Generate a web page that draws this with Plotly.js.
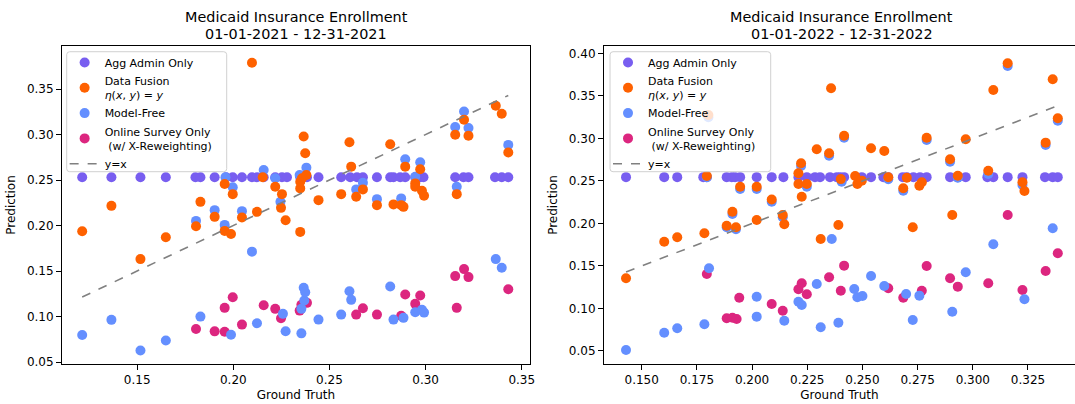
<!DOCTYPE html>
<html>
<head>
<meta charset="utf-8">
<script src="https://cdn.plot.ly/plotly-3.0.1.min.js"></script>
<style>html,body{margin:0;padding:0;background:#fff;}#chart{width:1075px;height:404px;}</style>
</head>
<body>
<div id="chart"></div>
<script>
// ---------- 2021 (left panel) ----------
const agg2021X = [0.1214,0.1366,0.1517,0.1649,0.1803,0.1829,0.1903,0.1962,0.1997,0.2045,0.2097,0.2123,0.2158,0.2218,0.2253,0.2279,0.2348,0.2360,0.2383,0.2443,0.2561,0.2608,0.2643,0.2674,0.2747,0.2816,0.2833,0.2868,0.2894,0.2946,0.2972,0.2989,0.3154,0.3197,0.3223,0.3361,0.3396,0.3430];
const agg2021Y = [0.253,0.253,0.253,0.253,0.253,0.253,0.253,0.253,0.253,0.253,0.253,0.253,0.253,0.253,0.253,0.253,0.253,0.253,0.253,0.253,0.253,0.253,0.253,0.253,0.253,0.253,0.253,0.253,0.253,0.253,0.253,0.253,0.253,0.253,0.253,0.253,0.253,0.253];

const fusion2021X = [0.1214,0.1366,0.1517,0.1649,0.1806,0.1829,0.1903,0.1955,0.1955,0.1988,0.1997,0.2045,0.2097,0.2123,0.2153,0.2218,0.2248,0.2253,0.2272,0.2348,0.2348,0.2348,0.2357,0.2366,0.2374,0.2380,0.2443,0.2561,0.2604,0.2613,0.2639,0.2674,0.2747,0.2816,0.2833,0.2873,0.2885,0.2894,0.2946,0.2946,0.2972,0.2981,0.2992,0.3154,0.3162,0.3200,0.3223,0.3365,0.3396,0.3430];
const fusion2021Y = [0.1937,0.2216,0.1631,0.1871,0.1992,0.2260,0.2095,0.2456,0.1941,0.1907,0.2345,0.2088,0.3788,0.2150,0.2530,0.2426,0.2194,0.2345,0.2058,0.1930,0.2408,0.2481,0.2519,0.2978,0.2794,0.2555,0.2279,0.2345,0.2916,0.2647,0.2316,0.2397,0.2224,0.2894,0.2232,0.2224,0.2205,0.2647,0.2463,0.2426,0.2618,0.2382,0.2327,0.2997,0.2345,0.3162,0.2986,0.3317,0.3228,0.2802];

const free2021X = [0.1214,0.1366,0.1517,0.1649,0.1806,0.1829,0.1903,0.1955,0.1959,0.1988,0.1997,0.2045,0.2097,0.2123,0.2158,0.2218,0.2245,0.2258,0.2272,0.2345,0.2354,0.2354,0.2366,0.2369,0.2374,0.2380,0.2443,0.2561,0.2604,0.2613,0.2639,0.2674,0.2747,0.2816,0.2833,0.2873,0.2885,0.2894,0.2946,0.2946,0.2972,0.2981,0.2992,0.3154,0.3162,0.3200,0.3223,0.3365,0.3396,0.3430];
const free2021Y = [0.0797,0.0963,0.0627,0.0737,0.2051,0.0999,0.2169,0.2007,0.2530,0.0800,0.2420,0.2158,0.1713,0.0925,0.2610,0.2519,0.2260,0.1029,0.0838,0.2555,0.1084,0.0815,0.1316,0.1176,0.1267,0.2636,0.0966,0.1021,0.1278,0.1183,0.2397,0.2470,0.2290,0.1330,0.0966,0.2298,0.0985,0.2728,0.1046,0.2536,0.2695,0.1073,0.1043,0.3082,0.2426,0.3254,0.3071,0.1631,0.1536,0.2886];

const survey2021X = [0.1806,0.1903,0.1955,0.1955,0.1997,0.2045,0.2158,0.2218,0.2248,0.2345,0.2354,0.2383,0.2639,0.2674,0.2747,0.2873,0.2894,0.2946,0.2972,0.3154,0.3162,0.3200,0.3223,0.3430];
const survey2021Y = [0.0863,0.0837,0.0833,0.1095,0.1212,0.0911,0.1124,0.1084,0.0980,0.1065,0.1128,0.1150,0.1021,0.1091,0.1021,0.1007,0.1242,0.1139,0.1231,0.1444,0.1095,0.1521,0.1433,0.1300];

const identity2021 = [0.1214, 0.3430];

// ---------- 2022 (right panel) ----------
const agg2022X = [0.1429,0.1602,0.1661,0.1779,0.1795,0.1885,0.1908,0.1923,0.1946,0.2021,0.2089,0.2142,0.2210,0.2248,0.2285,0.2308,0.2353,0.2384,0.2399,0.2417,0.2497,0.2539,0.2595,0.2617,0.2683,0.2701,0.2731,0.2761,0.2791,0.2897,0.2932,0.2968,0.3066,0.3093,0.3158,0.3225,0.3327,0.3362,0.3385];
const agg2022Y = [0.2545,0.2545,0.2545,0.2545,0.2545,0.2545,0.2545,0.2545,0.2545,0.2545,0.2545,0.2545,0.2545,0.2545,0.2545,0.2545,0.2545,0.2545,0.2545,0.2545,0.2545,0.2545,0.2545,0.2545,0.2545,0.2545,0.2545,0.2545,0.2545,0.2545,0.2545,0.2545,0.2545,0.2545,0.2545,0.2545,0.2545,0.2545,0.2545];

const fusion2022X = [0.1429,0.1602,0.1661,0.1784,0.1795,0.1802,0.1885,0.1911,0.1927,0.1946,0.2021,0.2021,0.2089,0.2139,0.2146,0.2210,0.2210,0.2222,0.2225,0.2248,0.2293,0.2311,0.2349,0.2358,0.2391,0.2402,0.2417,0.2467,0.2477,0.2497,0.2539,0.2599,0.2617,0.2685,0.2701,0.2728,0.2758,0.2769,0.2791,0.2897,0.2907,0.2932,0.2968,0.3070,0.3093,0.3158,0.3225,0.3234,0.3330,0.3362,0.3385];
const fusion2022Y = [0.1355,0.1786,0.1838,0.1885,0.2559,0.3276,0.1974,0.2139,0.1955,0.2433,0.2433,0.2041,0.2282,0.2100,0.1991,0.2591,0.2465,0.2708,0.2315,0.2465,0.2873,0.1818,0.2826,0.3590,0.1982,0.2522,0.3033,0.2559,0.2465,0.2504,0.2885,0.2853,0.2544,0.2414,0.2539,0.1955,0.2445,0.2485,0.3009,0.2755,0.2100,0.2562,0.2991,0.2621,0.3571,0.3885,0.2485,0.2382,0.2951,0.3696,0.3238];

const free2022X = [0.1429,0.1602,0.1661,0.1784,0.1795,0.1802,0.1805,0.1885,0.1911,0.1927,0.1946,0.2021,0.2021,0.2021,0.2089,0.2139,0.2146,0.2210,0.2222,0.2225,0.2248,0.2293,0.2311,0.2349,0.2361,0.2391,0.2406,0.2417,0.2463,0.2477,0.2500,0.2539,0.2599,0.2617,0.2685,0.2698,0.2728,0.2758,0.2791,0.2897,0.2907,0.2932,0.2968,0.3070,0.3093,0.3158,0.3225,0.3234,0.3330,0.3362,0.3385];
const free2022Y = [0.0512,0.0715,0.0767,0.0814,0.2544,0.3250,0.1473,0.1955,0.2112,0.1932,0.2406,0.2406,0.1139,0.0904,0.2256,0.2073,0.0856,0.1080,0.2676,0.1041,0.2433,0.1288,0.0779,0.2798,0.1818,0.0833,0.2492,0.3009,0.1229,0.1132,0.1147,0.1382,0.1265,0.2520,0.2386,0.1171,0.0865,0.1151,0.2982,0.2727,0.0962,0.2539,0.1426,0.2582,0.1755,0.3853,0.2453,0.1108,0.2924,0.1944,0.3209];

const survey2022X = [0.1795,0.1885,0.1911,0.1930,0.1942,0.2089,0.2139,0.2210,0.2225,0.2248,0.2349,0.2402,0.2417,0.2617,0.2685,0.2769,0.2791,0.2897,0.2932,0.3070,0.3158,0.3225,0.3330,0.3385];
const survey2022Y = [0.1406,0.0885,0.0892,0.0876,0.1127,0.1053,0.0974,0.1226,0.1296,0.1167,0.1367,0.1209,0.1504,0.1238,0.1127,0.1209,0.1500,0.1355,0.1257,0.1296,0.2100,0.1218,0.1441,0.1649];

const identity2022 = [0.1429, 0.3385];

// ---------- labels ----------
const seriesNames = ["Agg Admin Only", "Data Fusion<br><i>η</i>(<i>x</i>, <i>y</i>) = <i>y</i>", "Model-Free", "Online Survey Only<br> (w/ X-Reweighting)", "y=x"];
const titleLine1 = "Medicaid Insurance Enrollment";
const titles2 = ["01-01-2021 - 12-31-2021", "01-01-2022 - 12-31-2022"];
const xTitle = "Ground Truth";
const yTitle = "Prediction";

const colors = {agg: "#785EF0", fusion: "#FE6100", free: "#648FFF", survey: "#DC267F"};
const FONT = "DejaVu Sans, Liberation Sans, sans-serif";

function pts(x, y, name, color, rank, xa, ya, lg) {
  return {type: "scatter", mode: "markers", x: x, y: y, name: name,
    marker: {color: color, size: 10, line: {width: 0}},
    xaxis: xa, yaxis: ya, legend: lg, legendrank: rank, showlegend: true, hoverinfo: "x+y"};
}
function idLine(v, xa, ya, lg) {
  return {type: "scatter", mode: "lines", x: v, y: v, name: seriesNames[4],
    line: {color: "#808080", width: 1.6, dash: "dash"},
    xaxis: xa, yaxis: ya, legend: lg, legendrank: 5};
}

const traces = [
  pts(agg2021X, agg2021Y, seriesNames[0], colors.agg, 1, "x", "y", "legend"),
  pts(survey2021X, survey2021Y, seriesNames[3], colors.survey, 4, "x", "y", "legend"),
  pts(free2021X, free2021Y, seriesNames[2], colors.free, 3, "x", "y", "legend"),
  pts(fusion2021X, fusion2021Y, seriesNames[1], colors.fusion, 2, "x", "y", "legend"),
  idLine(identity2021, "x", "y", "legend"),
  pts(agg2022X, agg2022Y, seriesNames[0], colors.agg, 1, "x2", "y2", "legend2"),
  pts(survey2022X, survey2022Y, seriesNames[3], colors.survey, 4, "x2", "y2", "legend2"),
  pts(free2022X, free2022Y, seriesNames[2], colors.free, 3, "x2", "y2", "legend2"),
  pts(fusion2022X, fusion2022Y, seriesNames[1], colors.fusion, 2, "x2", "y2", "legend2"),
  idLine(identity2022, "x2", "y2", "legend2")
];

const axisBase = {showgrid: false, zeroline: false, showline: true, linecolor: "#000", linewidth: 1,
  ticks: "outside", ticklen: 5, tickwidth: 1, tickcolor: "#000",
  tickfont: {family: FONT, size: 12, color: "#000"}, automargin: false};

const legendBase = {bgcolor: "rgba(0,0,0,0)", borderwidth: 0,
  font: {family: FONT, size: 11, color: "#000"}, traceorder: "normal",
  xanchor: "left", yanchor: "top", tracegroupgap: 0, itemwidth: 30};

// rounded legend frame (paper coordinates)
function frame(x0, x1, y0, y1) {
  const rx = 3 / 1013, ry = 3 / 318;
  const p = "M " + (x0 + rx) + "," + y1 + " L " + (x1 - rx) + "," + y1 +
    " Q " + x1 + "," + y1 + " " + x1 + "," + (y1 - ry) +
    " L " + x1 + "," + (y0 + ry) + " Q " + x1 + "," + y0 + " " + (x1 - rx) + "," + y0 +
    " L " + (x0 + rx) + "," + y0 + " Q " + x0 + "," + y0 + " " + x0 + "," + (y0 + ry) +
    " L " + x0 + "," + (y1 - ry) + " Q " + x0 + "," + y1 + " " + (x0 + rx) + "," + y1 + " Z";
  return {type: "path", path: p, xref: "paper", yref: "paper", layer: "above",
    fillcolor: "rgba(255,255,255,0.8)", line: {color: "#d0d0d0", width: 1}};
}

const layout = {
  width: 1075, height: 404,
  margin: {l: 62, r: 0, t: 46, b: 40},
  paper_bgcolor: "#fff", plot_bgcolor: "#fff",
  font: {family: FONT, size: 12, color: "#000"},
  xaxis: Object.assign({}, axisBase, {domain: [0, 0.462], range: [0.1109, 0.3543], anchor: "y", mirror: true,
    tickvals: [0.15, 0.20, 0.25, 0.30, 0.35], tickformat: ".2f",
    title: {text: xTitle, font: {family: FONT, size: 12}, standoff: 4}}),
  yaxis: Object.assign({}, axisBase, {domain: [0, 1], range: [0.0478, 0.3973], anchor: "x", mirror: true,
    tickvals: [0.05, 0.10, 0.15, 0.20, 0.25, 0.30, 0.35], tickformat: ".2f",
    title: {text: yTitle, font: {family: FONT, size: 12}, standoff: 8}}),
  xaxis2: Object.assign({}, axisBase, {domain: [0.535, 1], range: [0.1329, 0.3463], anchor: "y2", mirror: true,
    tickvals: [0.150, 0.175, 0.200, 0.225, 0.250, 0.275, 0.300, 0.325], tickformat: ".3f",
    title: {text: xTitle, font: {family: FONT, size: 12}, standoff: 4}}),
  yaxis2: Object.assign({}, axisBase, {domain: [0, 1], range: [0.0347, 0.4088], anchor: "x2", mirror: false,
    tickvals: [0.05, 0.10, 0.15, 0.20, 0.25, 0.30, 0.35, 0.40], tickformat: ".2f",
    title: {text: yTitle, font: {family: FONT, size: 12}, standoff: 8}}),
  legend: Object.assign({}, legendBase, {x: 0.0026, y: 0.9937, xref: "paper", yref: "paper"}),
  legend2: Object.assign({}, legendBase, {x: 0.539, y: 0.9937, xref: "paper", yref: "paper"}),
  shapes: [frame(0.00464, 0.1626, 0.6047, 0.982), frame(0.541, 0.6996, 0.6047, 0.982)],
  annotations: [
    {text: titleLine1, x: 0.231, y: 1.0903, xref: "paper", yref: "paper", showarrow: false, xanchor: "center", yanchor: "middle", font: {family: FONT, size: 14.4}},
    {text: titles2[0], x: 0.231, y: 1.039, xref: "paper", yref: "paper", showarrow: false, xanchor: "center", yanchor: "middle", font: {family: FONT, size: 14.4}},
    {text: titleLine1, x: 0.7695, y: 1.0903, xref: "paper", yref: "paper", showarrow: false, xanchor: "center", yanchor: "middle", font: {family: FONT, size: 14.4}},
    {text: titles2[1], x: 0.7695, y: 1.039, xref: "paper", yref: "paper", showarrow: false, xanchor: "center", yanchor: "middle", font: {family: FONT, size: 14.4}}
  ],
  showlegend: true
};

Plotly.newPlot("chart", traces, layout, {displayModeBar: false, staticPlot: true});
</script>
</body>
</html>
